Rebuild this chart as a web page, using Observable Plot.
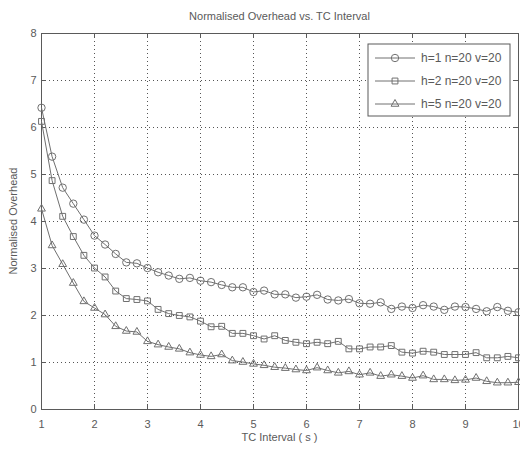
<!DOCTYPE html>
<html>
<head>
<meta charset="utf-8">
<script src="https://cdn.jsdelivr.net/npm/d3@7"></script>
<script src="https://cdn.jsdelivr.net/npm/@observablehq/plot@0.6"></script>
<style>
  html, body { margin: 0; padding: 0; background: #fff; }
  #chart { width: 520px; height: 450px; }
</style>
</head>
<body>
<div id="chart"></div>
<script>
const intervals = [1.0,1.2,1.4,1.6,1.8,2.0,2.2,2.4,2.6,2.8,3.0,3.2,3.4,3.6,3.8,4.0,4.2,4.4,4.6,4.8,5.0,5.2,5.4,5.6,5.8,6.0,6.2,6.4,6.6,6.8,7.0,7.2,7.4,7.6,7.8,8.0,8.2,8.4,8.6,8.8,9.0,9.2,9.4,9.6,9.8,10.0];
const h1 = [6.42,5.38,4.72,4.38,4.04,3.70,3.51,3.31,3.13,3.11,3.01,2.92,2.85,2.78,2.80,2.74,2.71,2.65,2.60,2.60,2.50,2.53,2.45,2.45,2.38,2.40,2.44,2.34,2.32,2.35,2.26,2.25,2.28,2.14,2.19,2.16,2.22,2.19,2.12,2.19,2.18,2.14,2.09,2.18,2.10,2.07];
const h2 = [6.13,4.87,4.11,3.68,3.28,3.01,2.82,2.52,2.36,2.34,2.31,2.13,2.04,2.00,1.97,1.88,1.76,1.77,1.62,1.62,1.57,1.50,1.57,1.47,1.43,1.40,1.43,1.40,1.45,1.29,1.29,1.33,1.33,1.36,1.22,1.20,1.24,1.22,1.17,1.17,1.17,1.21,1.10,1.10,1.13,1.10];
const h5 = [4.27,3.49,3.09,2.69,2.30,2.16,2.02,1.77,1.67,1.65,1.45,1.38,1.33,1.29,1.21,1.16,1.13,1.17,1.04,1.01,0.97,0.94,0.90,0.88,0.85,0.83,0.89,0.83,0.78,0.81,0.74,0.78,0.71,0.74,0.71,0.67,0.72,0.64,0.64,0.62,0.63,0.67,0.60,0.57,0.57,0.58];
const seriesNames = ["h=1 n=20 v=20", "h=2 n=20 v=20", "h=5 n=20 v=20"];
const seriesSymbols = ["circle", "square", "triangle"];
const seriesRadius = [3.7, 3.3, 2.9];
const xTicks = [1,2,3,4,5,6,7,8,9,10];
const yTicks = [0,1,2,3,4,5,6,7,8];

const seriesValues = [h1, h2, h5];
const rows = [];
seriesValues.forEach((vals, s) => vals.forEach((v, i) => rows.push({x: intervals[i], y: v, s: seriesNames[s]})));

const W = 520, H = 450, mL = 41, mR = 2, mT = 33, mB = 41;
const fw = W - mL - mR, fh = H - mT - mB;
const lineColor = "#707070";
const axisColor = "#5a5a5a";

const dotMarks = seriesNames.map((name, i) =>
  Plot.dot(rows.filter(d => d.s === name), {x: "x", y: "y", symbol: seriesSymbols[i], r: seriesRadius[i], stroke: lineColor, fill: "none", strokeWidth: 1})
);

const plot = Plot.plot({
  width: W, height: H,
  marginLeft: mL, marginRight: mR, marginTop: mT, marginBottom: mB,
  style: {fontFamily: "'Liberation Sans', Arial, sans-serif", fontSize: "11px", color: axisColor, background: "#fff"},
  x: {domain: [1, 10], ticks: xTicks},
  y: {domain: [0, 8], ticks: yTicks},
  marks: [
    Plot.gridX(xTicks, {stroke: "#555", strokeOpacity: 1, strokeDasharray: "1,3"}),
    Plot.gridY(yTicks, {stroke: "#555", strokeOpacity: 1, strokeDasharray: "1,3"}),
    Plot.ruleX(xTicks, {x: d => d, insetTop: fh - 5, stroke: axisColor}),
    Plot.ruleX(xTicks, {x: d => d, insetBottom: fh - 5, stroke: axisColor}),
    Plot.ruleY(yTicks, {y: d => d, insetRight: fw - 5, stroke: axisColor}),
    Plot.ruleY(yTicks, {y: d => d, insetLeft: fw - 5, stroke: axisColor}),
    Plot.frame({stroke: axisColor}),
    Plot.axisX(xTicks, {tickSize: 0, tickPadding: 11, label: null}),
    Plot.axisY(yTicks, {tickSize: 0, tickPadding: 5, label: null}),
    Plot.line(rows, {x: "x", y: "y", z: "s", stroke: lineColor, strokeWidth: 1}),
    ...dotMarks
  ]
});

const svg = d3.select(plot);
svg.append("text")
  .attr("x", mL + fw / 2).attr("y", 20)
  .attr("text-anchor", "middle")
  .attr("fill", axisColor)
  .style("font-size", "11px")
  .text("Normalised Overhead vs. TC Interval");
svg.append("text")
  .attr("x", mL + fw / 2).attr("y", 441)
  .attr("text-anchor", "middle")
  .attr("fill", axisColor)
  .style("font-size", "11px")
  .text("TC Interval ( s )");
svg.append("text")
  .attr("transform", `translate(17,${mT + fh / 2}) rotate(-90)`)
  .attr("text-anchor", "middle")
  .attr("fill", axisColor)
  .style("font-size", "11px")
  .text("Normalised Overhead");

// legend
const lg = svg.append("g");
lg.append("rect").attr("x", 368).attr("y", 44).attr("width", 142).attr("height", 72)
  .attr("fill", "#fff").attr("stroke", axisColor);
const symGen = [d3.symbolCircle, d3.symbolSquare, d3.symbolTriangle];
seriesNames.forEach((name, i) => {
  const yy = 58 + i * 23;
  lg.append("line").attr("x1", 375).attr("x2", 415).attr("y1", yy).attr("y2", yy).attr("stroke", lineColor);
  lg.append("path").attr("d", d3.symbol(symGen[i], Math.PI * seriesRadius[i] * seriesRadius[i])())
    .attr("transform", `translate(395,${yy})`).attr("fill", "none").attr("stroke", lineColor);
  lg.append("text").attr("x", 421).attr("y", yy).attr("dy", "0.35em").attr("fill", axisColor)
    .attr("text-anchor", "start")
    .style("font-size", "12px").text(name);
});

document.getElementById("chart").appendChild(plot);
</script>
</body>
</html>
